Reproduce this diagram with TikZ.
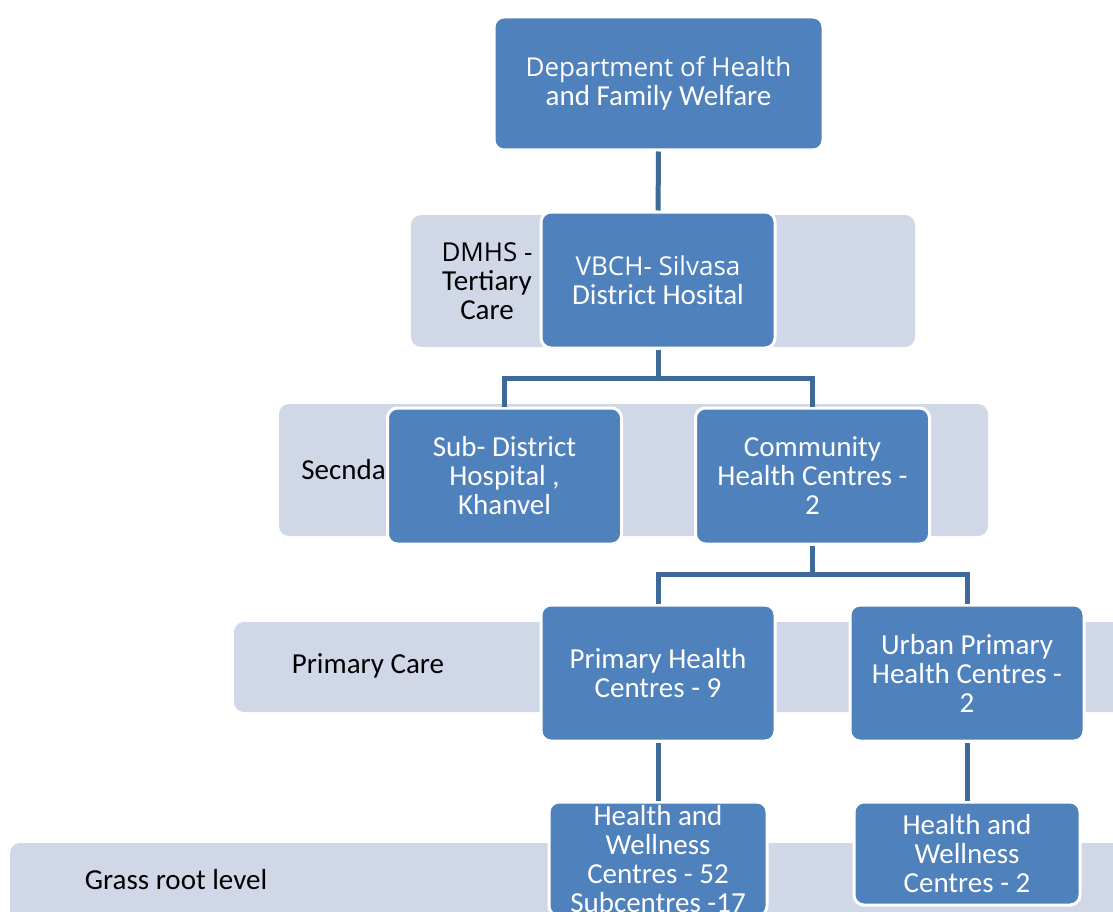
\documentclass[tikz,border=0pt]{standalone}
\usepackage{fontspec}
\setmainfont{Carlito}
\newfontfamily\headfont{Open Sans}
\usetikzlibrary{positioning}
\definecolor{boxblue}{HTML}{4F81BD}
\definecolor{bandgrey}{HTML}{D0D8E8}
\definecolor{linkblue}{HTML}{3E6A9A}

\begin{document}
\begin{tikzpicture}[x=1pt, y=-1pt,
  every node/.style={font=\fontsize{29}{29}\selectfont, align=center, inner sep=0pt},
  unit/.style={draw=white, line width=3pt, fill=boxblue, rounded corners=10pt, text=white,
    minimum width=234pt, minimum height=136pt},
  band/.style={fill=bandgrey, rounded corners=10pt},
  link/.style={draw=linkblue, line width=5pt}]
  \path[use as bounding box] (0,0) rectangle (1113,912);
  \clip (0,0) rectangle (1113,912);

  % level bands
  \node[band, minimum width=504pt, minimum height=132pt] (tertband) at (663,281) {};
  \node[band, minimum width=709pt, minimum height=132pt] (secband) at (633.5,470) {};
  \node[band, minimum width=899pt, minimum height=90pt] (primband) at (683.5,667) {};
  \node[band, minimum width=1123pt, minimum height=107pt] (grassband) at (571.5,896.5) {};

  \node (tertlbl) at (487,281) {\headfont\fontsize{26}{29}\selectfont DMHS -\\Tertiary\\Care};
  \node[anchor=east] (seclbl) at (386,470) {Secnda};
  \node (primlbl) at (368,666) {Primary Care};
  \node (grasslbl) at (176,880) {Grass root level};

  % boxes
  \node[unit, minimum width=329pt, minimum height=133pt] (dept) at (658.5,83.5)
    {\headfont\fontsize{26}{28}\selectfont Department of Health\\and Family Welfare};
  \node[unit] (vbch) at (658,280)
    {\headfont\fontsize{26}{30}\selectfont VBCH- Silvasa\\District Hosital};
  \node[unit] (sdh) at (504.5,476) {Sub- District\\Hospital ,\\Khanvel};
  \node[unit] (chc) at (812.5,476) {Community\\Health Centres -\\2};
  \node[unit] (phc) at (658,673) {Primary Health\\Centres - 9};
  \node[unit] (uphc) at (967,673) {Urban Primary\\Health Centres -\\2};
  \node[unit, minimum width=218pt, minimum height=114pt] (hwc) at (658,859)
    {Health and\\Wellness\\Centres - 52\\Subcentres -17};
  \node[unit, minimum width=226pt, minimum height=103pt] (uhwc) at (967,853.5)
    {Health and\\Wellness\\Centres - 2};

  % connectors
  \coordinate (split1) at (658,378);
  \coordinate (split2) at (812.5,574);
  \draw[link] (dept) -- (vbch);
  \draw[link] (vbch) -- (split1) -| (sdh);
  \draw[link] (split1) -| (chc);
  \draw[link] (chc) -- (split2) -| (phc);
  \draw[link] (split2) -| (uphc);
  \draw[link] (phc) -- (hwc);
  \draw[link] (uphc) -- (uhwc);
\end{tikzpicture}
\end{document}
